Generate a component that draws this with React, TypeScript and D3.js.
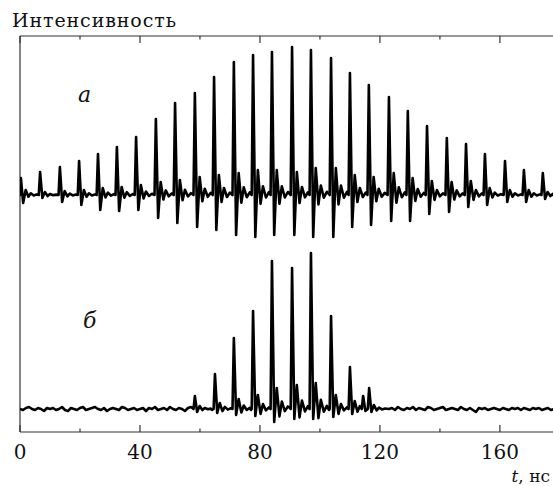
import React from "react";
import * as d3 from "d3";

const W = 553;
const H = 486;

// x-axis ticks (ns)
const xTicksMajor = [0, 40, 80, 120, 160];
const xTicksMinor = [20, 60, 100, 140];

// Trace "а": pulse times (ns), peak heights, trough depths, echo heights (arb. units)
const pulseTimesA = [0.3, 6.7, 13.3, 19.7, 26.0, 32.3, 38.7, 45.3, 51.7, 58.3, 64.7, 71.3, 77.7, 84.0, 90.7, 97.0, 103.7, 110.0, 116.3, 123.0, 129.3, 135.7, 142.3, 148.7, 155.0, 161.7, 168.0, 174.3];
const peaksA = [17, 23, 28, 34, 41, 48, 58, 76, 92, 102, 118, 133, 140, 143, 148, 145, 137, 122, 110, 98, 84, 69, 57, 51, 41, 34, 25, 22];
const troughsA = [8, 3, 7, 10, 15, 16, 15, 23, 28, 32, 35, 40, 42, 40, 40, 42, 42, 32, 30, 26, 26, 19, 17, 12, 10, 7, 7, 4];
const echoesA = [5, 3, 4, 5, 7, 8, 10, 13, 15, 18, 20, 22, 25, 25, 23, 27, 27, 20, 18, 22, 17, 14, 13, 14, 7, 5, 5, 3];

// Trace "б"
const pulseTimesB = [58.3, 65.0, 71.3, 77.7, 84.0, 90.7, 97.0, 103.7, 110.0, 114.4, 116.4];
const peaksB = [13, 35, 71, 98, 148, 141, 156, 93, 42, 13, 21];
const troughsB = [3, 4, 6, 7, 13, 10, 10, 8, 5, 2, 3];
const echoesB = [3, 6, 10, 14, 21, 24, 26, 14, 8, 3, 4];

// baseline noise of trace "б", one value every 1 ns
const noiseB = [
  0, -1, 1, 2, 0, -1, 1, 0, -2, 1, 0, 1, -1, 0, 2, -1, -2, 1, 0, -1,
  1, 2, -1, 0, 1, 2, 0, -1, 1, -2, 0, 1, 0, -1, 2, 1, -1, 0, 1, -1,
  0, 1, -2, 1, 0, 2, -1, 0, 1, -1, 2, 0, -1, 1, 0, -2, 1, 2, 0, -1,
  1, -1, 0, 2, -1, 1, 0, -2, 1, 0, 1, -1, 2, 0, -1, 1, 0, -1, 2, 1,
  -1, 0, 1, -2, 0, 1, -1, 2, 0, -1, 1, 0, -1, 1, 2, -1, -3, 1, 0, 1,
  -1, 0, 2, -1, 1, 0, -1, 1, 0, -1, 2, 0, -1, 1, 0, 1, -1, 0, 1, 2,
  0, 1, -1, 0, 1, -1, 2, 0, -1, 1, 0, 2, -1, 1, 0, -1, 2, 1, -1, 0,
  1, 2, -1, 0, 1, 0, -1, 2, 0, -1, 1, -1, -3, 1, 0, 1, -1, 0, 1, 0,
  -1, 1, 0, -1, 1, 0, 1, -1, 1, 0, -1, 1, 0, 1, -1, 0, 1, -1, 0, 0
];

// pulse waveform template: time offsets (ns) and ringing ratios after the echo
const shapeDt = [-0.45, 0, 0.75, 1.6, 2.5, 3.3, 4.3, 5.3];
const ringing = [-0.35, 0.35, -0.1, 0.12];

const baseA = 237;
const baseB = 23;
const tEnd = 177.7;

type Pt = [number, number];

function buildTrace(
  times: number[],
  peaks: number[],
  troughs: number[],
  echoes: number[],
  base: number,
  noise: number[] | null,
  noiseStep: number
): Pt[] {
  const pts: Pt[] = [];
  const windows: [number, number][] = [];
  times.forEach((t0, i) => {
    const limit = i < times.length - 1 ? times[i + 1] - 0.5 : tEnd + 1;
    const e = echoes[i];
    const vals = [0, peaks[i], -troughs[i], e, ...ringing.map((r) => r * e)];
    let last = t0;
    shapeDt.forEach((dt, k) => {
      const t = t0 + dt;
      if (t < limit) {
        pts.push([t, base + vals[k]]);
        last = t;
      }
    });
    windows.push([t0 - 0.6, last + 0.4]);
  });
  if (noise) {
    noise.forEach((v, i) => {
      const t = i * noiseStep;
      if (!windows.some(([a, b]) => t > a && t < b)) pts.push([t, base + v]);
    });
  } else {
    pts.push([0, base]);
    pts.push([tEnd, base]);
  }
  pts.sort((a, b) => a[0] - b[0]);
  return pts;
}

export default function App() {
  const x = d3.scaleLinear().domain([0, tEnd]).range([20, 553]);
  const y = d3.scaleLinear().domain([0, 396]).range([432, 36]);
  const line = d3
    .line<Pt>()
    .x((d) => x(d[0]))
    .y((d) => y(d[1]));

  const traceA = buildTrace(pulseTimesA, peaksA, troughsA, echoesA, baseA, null, 1);
  const traceB = buildTrace(pulseTimesB, peaksB, troughsB, echoesB, baseB, noiseB, 1);

  const [x0, x1] = x.range();
  const yTop = y(396);
  const yBot = y(0);
  const axisColor = "#333";
  const font = "DejaVu Serif";

  return (
    <svg
      width={W}
      height={H}
      style={{ position: "absolute", left: 0, top: 0, background: "#fff" }}
    >
      <defs>
        <clipPath id="plot">
          <rect x={x0} y={yTop} width={x1 - x0} height={yBot - yTop} />
        </clipPath>
      </defs>
      <rect x={0} y={0} width={W} height={H} fill="#fff" />

      {/* frame */}
      <line x1={x0} x2={x1} y1={yTop} y2={yTop} stroke={axisColor} strokeWidth={1.2} />
      <line x1={x0} x2={x1} y1={yBot} y2={yBot} stroke={axisColor} strokeWidth={1.2} />
      <line x1={x0} x2={x0} y1={yTop} y2={yBot} stroke={axisColor} strokeWidth={1.2} />

      {xTicksMajor.map((t) => (
        <g key={"M" + t}>
          <line x1={x(t)} x2={x(t)} y1={yTop} y2={yTop + 7} stroke={axisColor} strokeWidth={1.2} />
          <line x1={x(t)} x2={x(t)} y1={yBot} y2={yBot - 7} stroke={axisColor} strokeWidth={1.2} />
          <text x={x(t)} y={459} fontSize={20} textAnchor="middle" fill="#111" fontFamily={font}>
            {t}
          </text>
        </g>
      ))}
      {xTicksMinor.map((t) => (
        <g key={"m" + t}>
          <line x1={x(t)} x2={x(t)} y1={yTop} y2={yTop + 3.5} stroke={axisColor} strokeWidth={1.2} />
          <line x1={x(t)} x2={x(t)} y1={yBot} y2={yBot - 3.5} stroke={axisColor} strokeWidth={1.2} />
        </g>
      ))}

      <g clipPath="url(#plot)">
        <path d={line(traceA) || ""} fill="none" stroke="#000" strokeWidth={2.6} strokeLinejoin="round" />
        <path d={line(traceB) || ""} fill="none" stroke="#000" strokeWidth={2.6} strokeLinejoin="round" />
      </g>

      <text x={12} y={27} fontSize={19} textLength={164} lengthAdjust="spacing" fill="#111" fontFamily={font}>
        Интенсивность
      </text>
      <text x={78} y={102} fontSize={22} fontStyle="italic" fill="#111" fontFamily={font}>
        а
      </text>
      <text x={83} y={328} fontSize={22} fontStyle="italic" fill="#111" fontFamily={font}>
        б
      </text>
      <text x={550} y={482} fontSize={17} textAnchor="end" fill="#111" fontFamily={font}>
        <tspan fontStyle="italic">t</tspan>
        <tspan>, нс</tspan>
      </text>
    </svg>
  );
}
